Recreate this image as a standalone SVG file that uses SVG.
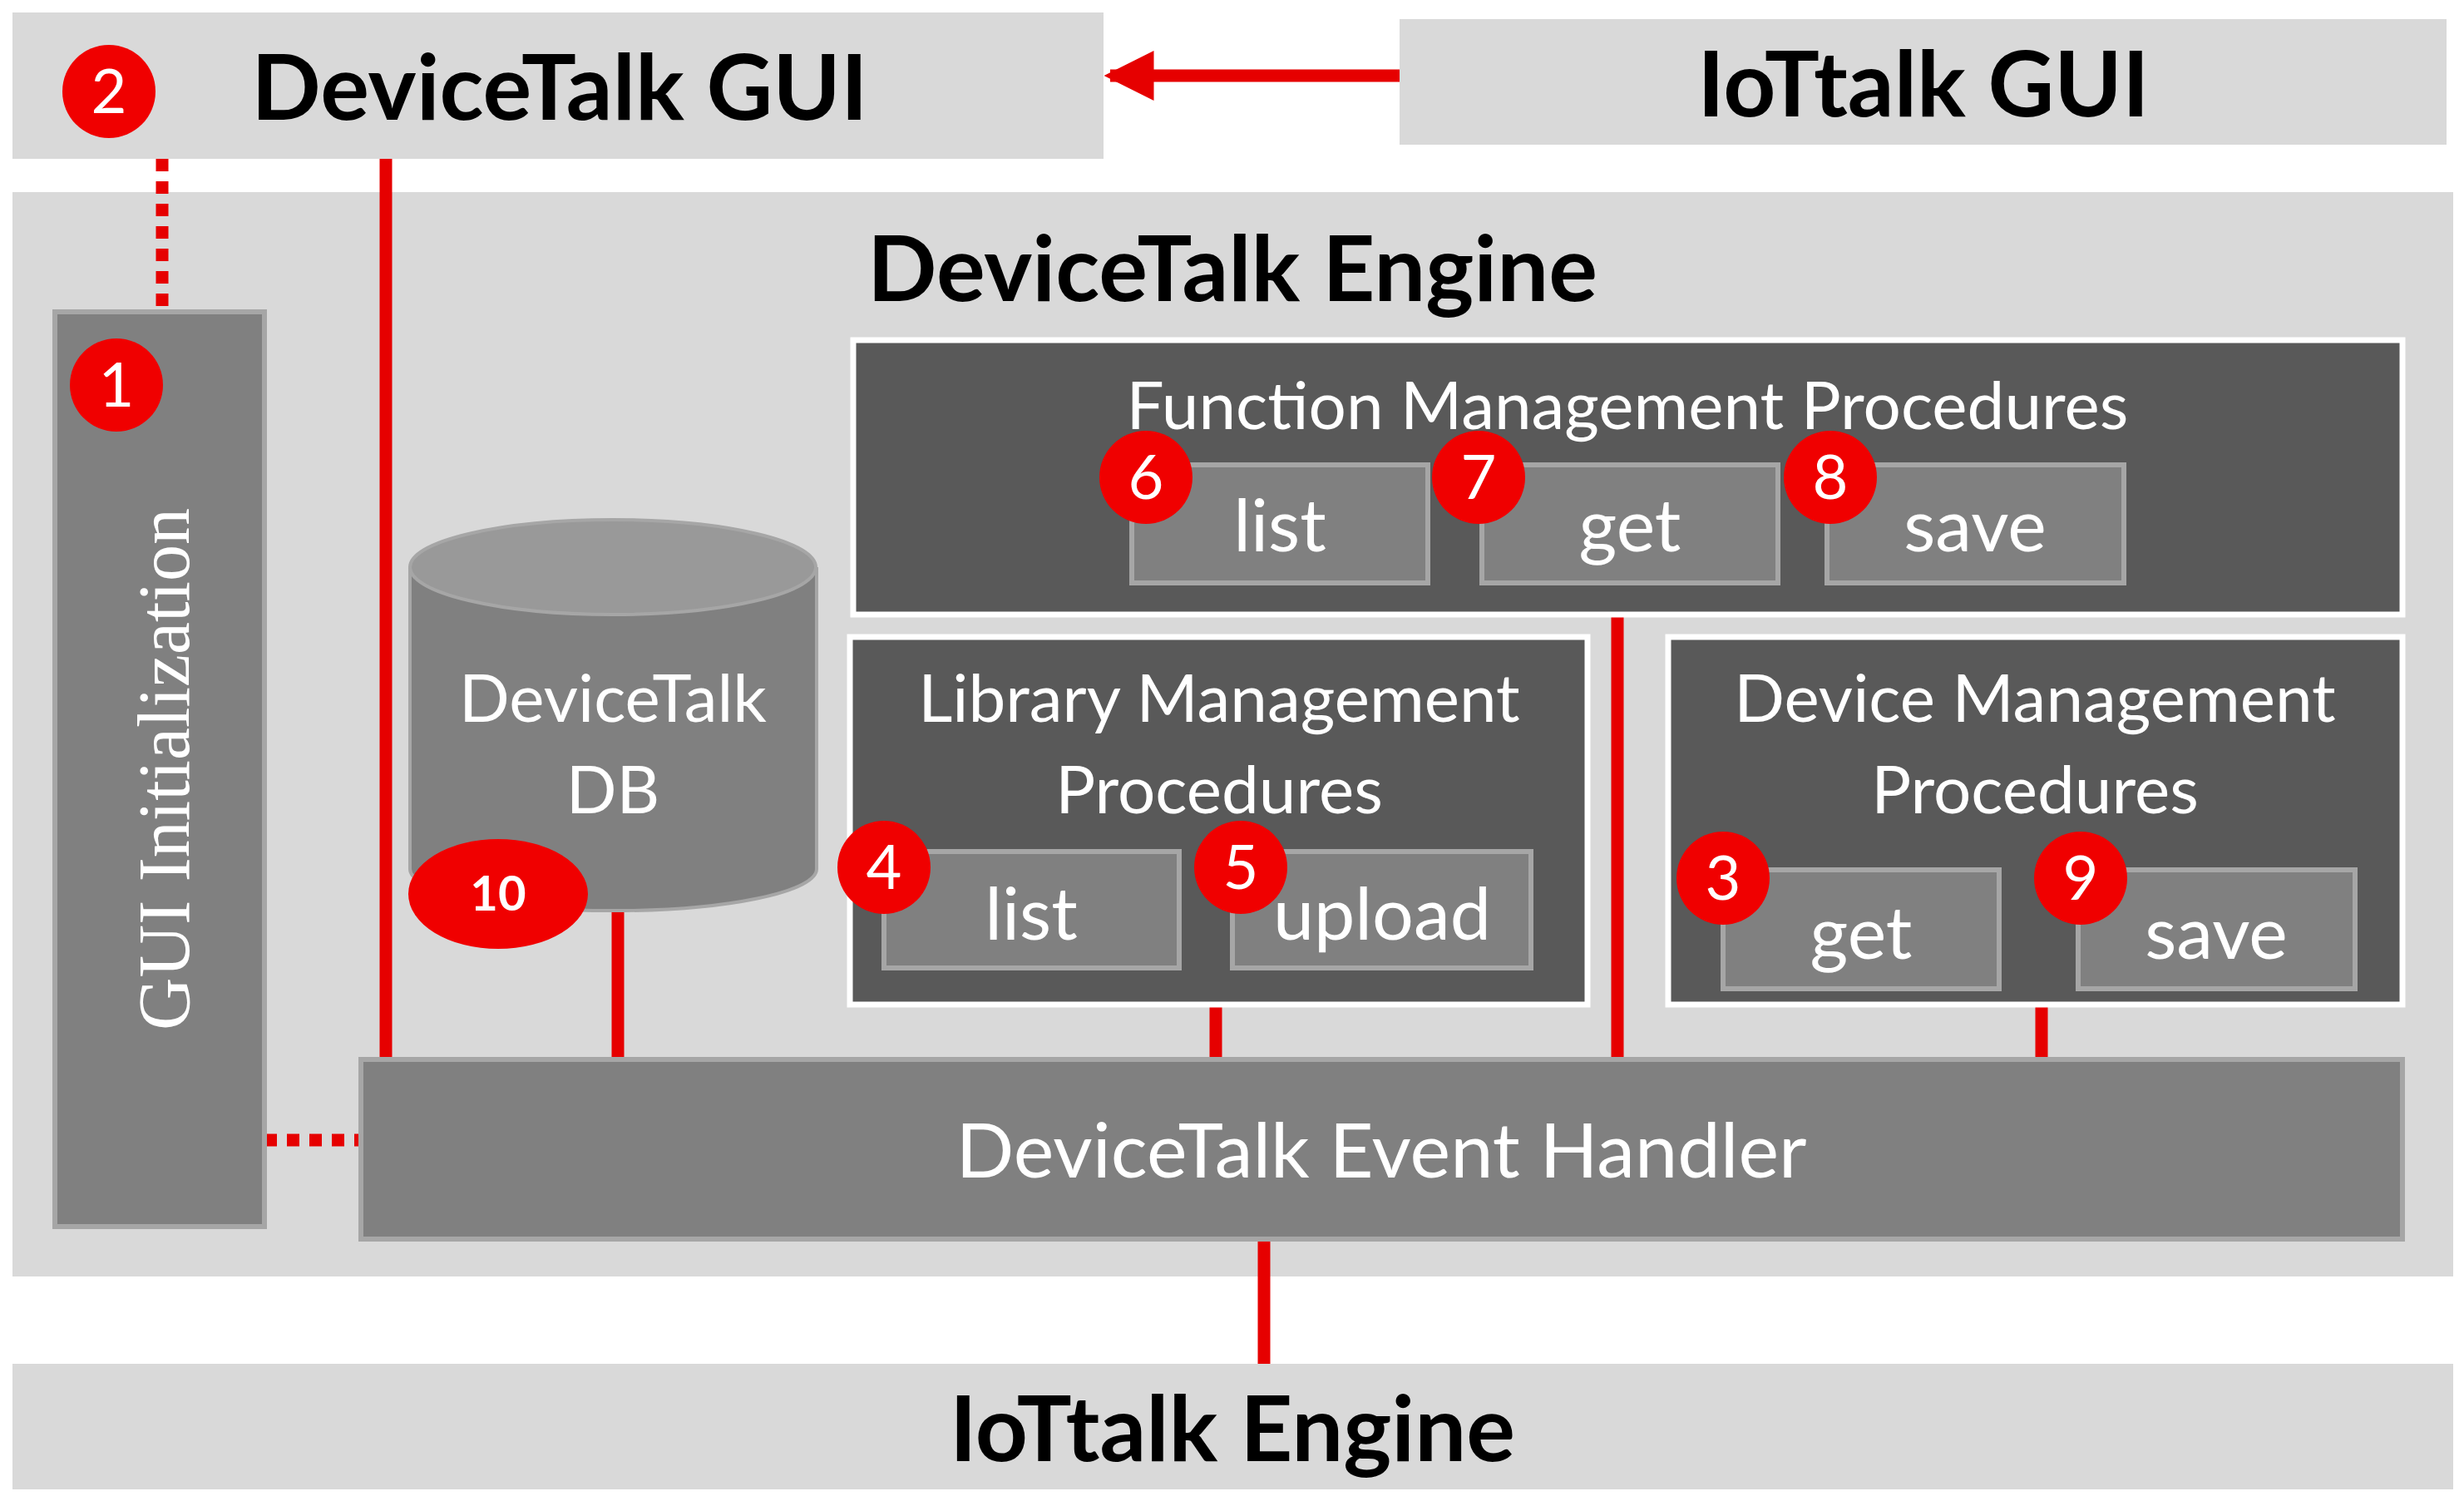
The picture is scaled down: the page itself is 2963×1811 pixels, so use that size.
<svg xmlns="http://www.w3.org/2000/svg" width="2963" height="1811" viewBox="0 0 2963 1811">
<style>
.bg{fill:#d9d9d9}
.t{font-family:Lato,"Open Sans",sans-serif;text-anchor:middle}
.h{font-weight:bold;fill:#000;font-size:110px}
.w{fill:#fff;font-size:80px}
.btn{fill:#808080;stroke:#a6a6a6;stroke-width:6}
.bt{fill:#fff;font-size:88px}
.panel{fill:#595959;stroke:#fff;stroke-width:7}
.r{stroke:#e60000;stroke-width:15;fill:none}
.d{stroke:#e60000;stroke-width:15;stroke-dasharray:15 12;fill:none}
.b{fill:#f00000}
.bn{fill:#fff;font-size:74px;font-family:Lato,"Open Sans",sans-serif;text-anchor:middle}
</style>
<defs><marker id="ah" markerWidth="4" markerHeight="4" refX="3.5" refY="2" orient="auto" markerUnits="strokeWidth"><path d="M0,0L4,2L0,4z" fill="#e60000"/></marker></defs>
<rect width="2963" height="1811" fill="#fff"/>
<g id="devicetalk-gui"><rect class="bg" x="15" y="15" width="1312" height="176"/><text class="t h" x="673" y="144">DeviceTalk GUI</text></g>
<g id="iottalk-gui"><rect class="bg" x="1683" y="23" width="1259" height="151"/><text class="t h" x="2313" y="140">IoTtalk GUI</text></g>
<g id="engine"><rect class="bg" x="15" y="231" width="2935" height="1304"/><text class="t h" x="1482" y="362">DeviceTalk Engine</text></g>
<g id="iottalk-engine"><rect class="bg" x="15" y="1640" width="2935" height="151"/><text class="t h" x="1482" y="1757">IoTtalk Engine</text></g>
<g id="connectors">
<line class="r" x1="1683" y1="91" x2="1335" y2="91" marker-end="url(#ah)"/>
<line class="d" x1="195" y1="191" x2="195" y2="375"/>
<line class="d" x1="318" y1="1371" x2="434" y2="1371"/>
<line class="r" x1="464" y1="191" x2="464" y2="1274"/>
<line class="r" x1="743" y1="1095" x2="743" y2="1274"/>
<line class="r" x1="1462" y1="1208" x2="1462" y2="1274"/>
<line class="r" x1="1945" y1="739" x2="1945" y2="1274"/>
<line class="r" x1="2455" y1="1208" x2="2455" y2="1274"/>
<line class="r" x1="1520" y1="1490" x2="1520" y2="1640"/>
</g>
<g id="gui-init"><rect class="btn" x="66" y="375" width="252" height="1100"/><text transform="translate(227,925) rotate(-90)" style="font-family:'Liberation Serif',serif;font-size:88px;fill:#fff;text-anchor:middle">GUI Initialization</text></g>
<g id="func"><rect class="panel" x="1026" y="409" width="1863" height="330"/><text class="t w" x="1957" y="516">Function Management Procedures</text>
<rect class="btn" x="1361" y="559" width="356" height="142"/><text class="t bt" x="1539" y="663">list</text>
<rect class="btn" x="1782" y="559" width="356" height="142"/><text class="t bt" x="1960" y="663">get</text>
<rect class="btn" x="2197" y="559" width="357" height="142"/><text class="t bt" x="2375" y="663">save</text></g>
<g id="lib"><rect class="panel" x="1022" y="766" width="887" height="442"/><text class="t w" x="1466" y="868">Library Management</text><text class="t w" x="1466" y="978">Procedures</text>
<rect class="btn" x="1063" y="1024" width="355" height="140"/><text class="t bt" x="1240" y="1130">list</text>
<rect class="btn" x="1482" y="1024" width="359" height="140"/><text class="t bt" x="1662" y="1130">upload</text></g>
<g id="dev"><rect class="panel" x="2006" y="766" width="883" height="442"/><text class="t w" x="2447" y="868">Device Management</text><text class="t w" x="2447" y="978">Procedures</text>
<rect class="btn" x="2072" y="1046" width="332" height="143"/><text class="t bt" x="2238" y="1153">get</text>
<rect class="btn" x="2499" y="1046" width="333" height="143"/><text class="t bt" x="2665" y="1153">save</text></g>
<g id="db"><path d="M493,682 V1045 A244,50 0 0 0 982,1045 V682" fill="#808080" stroke="#a6a6a6" stroke-width="4"/><ellipse cx="737" cy="682" rx="244" ry="57" fill="#999" stroke="#a6a6a6" stroke-width="4"/>
<text class="t w" x="737" y="868">DeviceTalk</text><text class="t w" x="737" y="978">DB</text></g>
<g id="handler"><rect class="btn" x="434" y="1274" width="2455" height="216"/><text class="t" style="fill:#fff;font-size:92px" x="1661" y="1416">DeviceTalk Event Handler</text></g>
<g id="badges">
<circle class="b" cx="131" cy="110" r="56"/><text class="bn" x="131" y="136">2</text>
<circle class="b" cx="140" cy="463" r="56"/><text class="bn" x="140" y="489">1</text>
<circle class="b" cx="1378" cy="574" r="56"/><text class="bn" x="1378" y="600">6</text>
<circle class="b" cx="1778" cy="574" r="56"/><text class="bn" x="1778" y="600">7</text>
<circle class="b" cx="2201" cy="574" r="56"/><text class="bn" x="2201" y="600">8</text>
<circle class="b" cx="1063" cy="1043" r="56"/><text class="bn" x="1063" y="1069">4</text>
<circle class="b" cx="1492" cy="1043" r="56"/><text class="bn" x="1492" y="1069">5</text>
<circle class="b" cx="2072" cy="1056" r="56"/><text class="bn" x="2072" y="1082">3</text>
<circle class="b" cx="2502" cy="1056" r="56"/><text class="bn" x="2502" y="1082">9</text>
<ellipse class="b" cx="599" cy="1075" rx="108" ry="66"/><text class="bn" style="font-size:58px;font-weight:bold" x="599" y="1095">10</text>
</g>
</svg>
